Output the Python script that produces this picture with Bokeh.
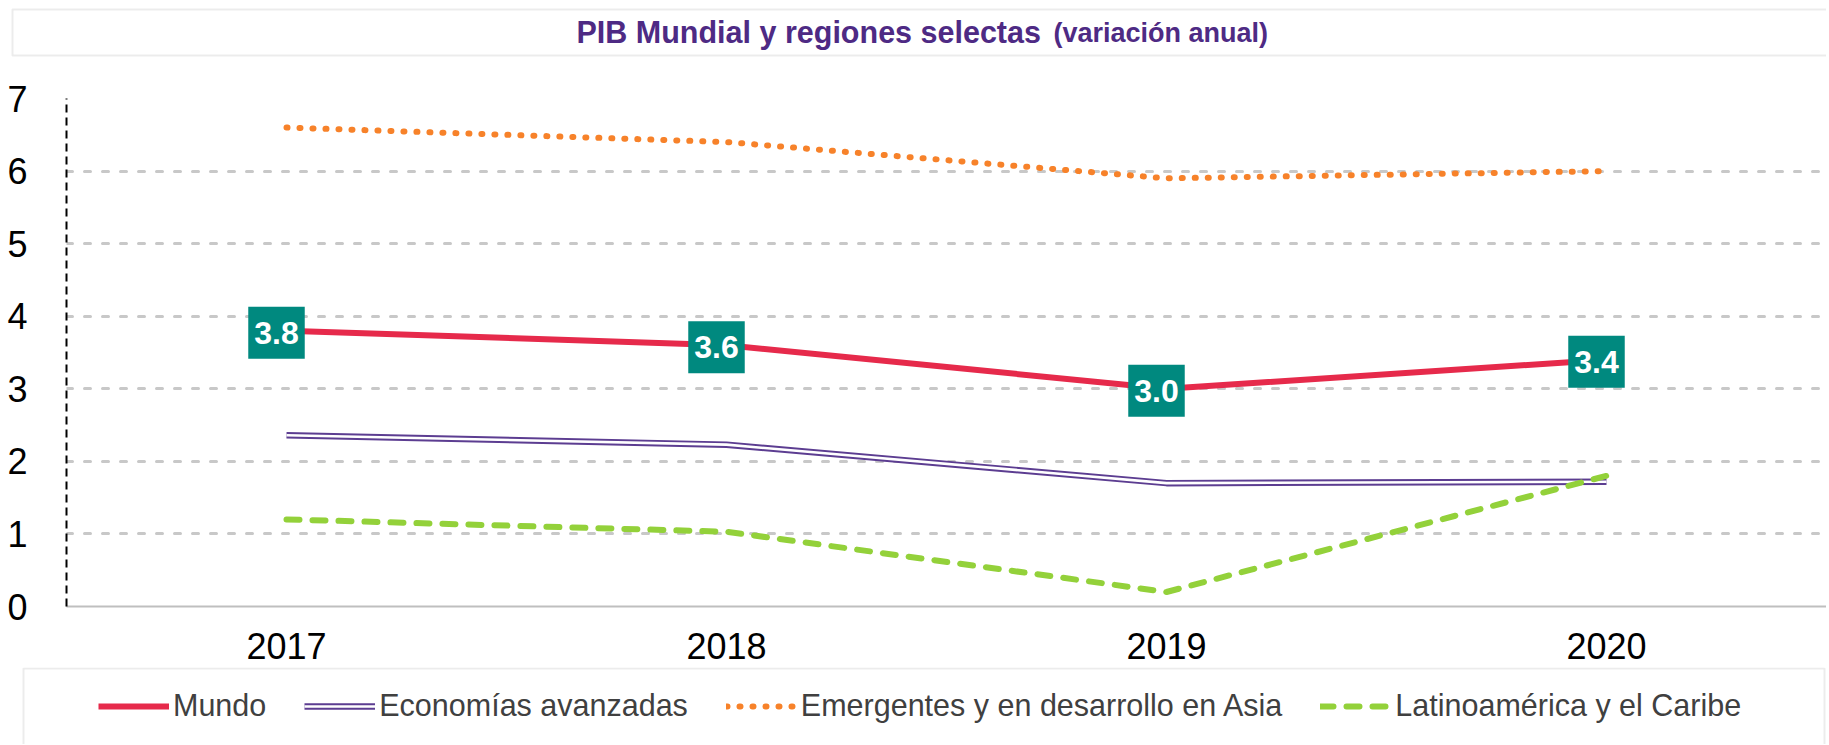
from bokeh.plotting import figure
from bokeh.models import (FactorRange, Range1d, Label, BoxAnnotation, Legend,
                          LegendItem, SingleIntervalTicker)
from bokeh.embed import file_html
from bokeh.resources import INLINE
from bokeh.core.properties import value

# ---------------- data ----------------
years = ["2017", "2018", "2019", "2020"]
mundo = [3.8, 3.6, 3.0, 3.4]
avanzadas = [2.36, 2.23, 1.70, 1.72]
asia = [6.6, 6.4, 5.9, 6.0]
latam = [1.2, 1.03, 0.2, 1.8]
mundo_labels = ["3.8", "3.6", "3.0", "3.4"]
series_names = ["Mundo", "Economías avanzadas",
                "Emergentes y en desarrollo en Asia", "Latinoamérica y el Caribe"]
title_main = "PIB Mundial y regiones selectas"
title_sub = "(variación anual)"

FONT = "Liberation Sans"
PURPLE_T = "#4E2A84"
BOXLINE = "#BFBFBF"
NAN = float("nan")

# ---------------- styles ----------------
STY_MUNDO = dict(line_color="#E62A4B", line_width=6, line_join="round")
STY_AV_OUT = dict(line_color="#5C3D91", line_width=6.5, line_join="round")
STY_AV_IN = dict(line_color="white", line_width=2.6, line_join="round")
STY_ASIA = dict(line_color="#F7822A", line_width=6, line_dash="1 12", line_cap="round")
STY_LATAM = dict(line_color="#93D13A", line_width=6, line_dash="13 13", line_cap="round")

W = 1826
HT, HM, HL = 58, 609, 77


def canvas_fig(h):
    f = figure(width=W, height=h, x_range=Range1d(0, W), y_range=Range1d(0, h),
               output_backend="svg", toolbar_location=None, title=None,
               x_axis_location=None, y_axis_location=None,
               min_border=0, min_border_left=0, min_border_right=0,
               min_border_top=0, min_border_bottom=0)
    f.outline_line_color = None
    f.grid.visible = False
    f.background_fill_color = "white"
    f.border_fill_color = "white"
    return f


# ---------------- title ----------------
pt = canvas_fig(HT)
pt.add_layout(BoxAnnotation(left=12, right=W + 20, top=HT - 9, bottom=3,
                            fill_alpha=0, line_color=BOXLINE, line_width=2))
pt.add_layout(Label(x=576, y=27, text=title_main, text_font=FONT,
                    text_font_style="bold", text_font_size="30.5px",
                    text_color=PURPLE_T, text_baseline="middle"))
pt.add_layout(Label(x=1053, y=26, text=title_sub, text_font=FONT,
                    text_font_style="bold", text_font_size="27px",
                    text_color=PURPLE_T, text_baseline="middle"))

# ---------------- main chart ----------------
p = figure(width=W, height=HM, x_range=FactorRange(*years), y_range=Range1d(0, 7),
           output_backend="svg", toolbar_location=None, title=None,
           min_border_left=66, min_border_right=0, min_border_top=40,
           min_border_bottom=61)
p.outline_line_color = None
p.background_fill_color = "white"
p.border_fill_color = "white"

p.yaxis.ticker = SingleIntervalTicker(interval=1)
p.yaxis.axis_line_color = "black"
p.yaxis.axis_line_width = 2
p.yaxis.axis_line_dash = "8 5"
p.yaxis.major_tick_line_color = None
p.yaxis.minor_tick_line_color = None
p.yaxis.major_label_text_font = FONT
p.yaxis.major_label_text_font_size = "36px"
p.yaxis.major_label_text_color = "black"
p.yaxis.major_label_standoff = 33

p.xaxis.axis_line_color = BOXLINE
p.xaxis.axis_line_width = 2
p.xaxis.major_tick_line_color = None
p.xaxis.minor_tick_line_color = None
p.xaxis.major_label_text_font = FONT
p.xaxis.major_label_text_font_size = "36px"
p.xaxis.major_label_text_color = "black"
p.xaxis.major_label_standoff = 20

p.xgrid.visible = False
p.ygrid.grid_line_color = "#C8C8C8"
p.ygrid.grid_line_width = 3
p.ygrid.grid_line_dash = "6 12"
p.ygrid.grid_line_cap = "round"

p.line(years, avanzadas, **STY_AV_OUT)
p.line(years, avanzadas, **STY_AV_IN)
p.line(years, asia, **STY_ASIA)
p.line(years, latam, **STY_LATAM)
p.line(years, mundo, **STY_MUNDO)

p.text(x=years, y=mundo, text=mundo_labels, text_color="white",
       text_font=value(FONT), text_font_size="32px", text_font_style="bold",
       text_align="center", text_baseline="middle", x_offset=-10, y_offset=2,
       background_fill_color="#00897F",
       padding=dict(left=6, right=6, top=15, bottom=15))

# ---------------- legend ----------------
pl = canvas_fig(HL)
pl.add_layout(BoxAnnotation(left=23, right=W - 2, top=HL - 1, bottom=-20,
                            fill_alpha=0, line_color=BOXLINE, line_width=2))
lg_mundo = pl.line(x=[NAN], y=[NAN], **STY_MUNDO)
lg_av_out = pl.line(x=[NAN], y=[NAN], **STY_AV_OUT)
lg_av_in = pl.line(x=[NAN], y=[NAN], **STY_AV_IN)
lg_asia = pl.line(x=[NAN], y=[NAN], **STY_ASIA)
lg_latam = pl.line(x=[NAN], y=[NAN], **STY_LATAM)
legend = Legend(items=[
    LegendItem(label=series_names[0], renderers=[lg_mundo]),
    LegendItem(label=series_names[1], renderers=[lg_av_out, lg_av_in]),
    LegendItem(label=series_names[2], renderers=[lg_asia]),
    LegendItem(label=series_names[3], renderers=[lg_latam]),
], orientation="horizontal", location=(98, 21), padding=0, margin=0, spacing=38,
    glyph_width=71, glyph_height=20, label_standoff=4, border_line_color=None,
    background_fill_alpha=0, label_text_font=FONT, label_text_font_size="30.5px",
    label_text_color="#404040")
pl.add_layout(legend)

open("out.html", "w").write(file_html([pt, p, pl], INLINE))
